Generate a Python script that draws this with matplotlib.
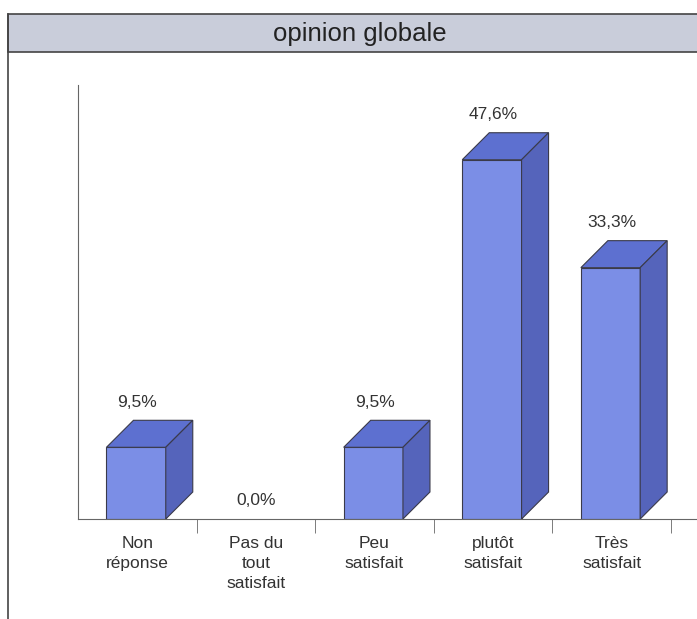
import matplotlib.pyplot as plt
from matplotlib.patches import Polygon
from matplotlib.lines import Line2D

categories = ["Non\nréponse", "Pas du\ntout\nsatisfait", "Peu\nsatisfait",
              "plutôt\nsatisfait", "Très\nsatisfait"]
values = [9.5, 0.0, 9.5, 47.6, 33.3]
labels = ["9,5%", "0,0%", "9,5%", "47,6%", "33,3%"]

plt.rcParams['font.family'] = ['Liberation Sans', 'DejaVu Sans']

W, H = 697, 619
fig = plt.figure(figsize=(W / 100, H / 100), dpi=100)

# title band
fig.patches.append(plt.Rectangle((8 / W, 1 - 52 / H), 1, 38 / H, transform=fig.transFigure,
                                 facecolor='#c9cdda', edgecolor='#444444', lw=1.2))
fig.text(360 / W, 1 - 34 / H, "opinion globale", ha='center', va='center',
         fontsize=18.5, color='#222222')
fig.add_artist(Line2D([8 / W, 8 / W], [0, 1 - 14 / H], transform=fig.transFigure,
                      color='#444444', lw=1.2))

ax = fig.add_axes([78 / W, 100 / H, (W - 78) / W, 434 / H])
x_lo = -0.5
x_hi = x_lo + (W - 78) / 118.6
ax.set_xlim(x_lo, x_hi)
ax.set_ylim(0, 57.5)

dx = 27 / 118.6
dy = 27 / 7.55
front = '#7b8ee6'
top = '#5d70d0'
side = '#5564bb'
edge = '#3a3a4a'

for i, v in enumerate(values):
    l, r = i - 0.26, i + 0.24
    if v > 0:
        ax.add_patch(Polygon([(l, 0), (r, 0), (r, v), (l, v)], closed=True,
                             facecolor=front, edgecolor=edge, lw=0.8))
        ax.add_patch(Polygon([(l, v), (r, v), (r + dx, v + dy), (l + dx, v + dy)], closed=True,
                             facecolor=top, edgecolor=edge, lw=0.8))
        ax.add_patch(Polygon([(r, 0), (r + dx, dy), (r + dx, v + dy), (r, v)], closed=True,
                             facecolor=side, edgecolor=edge, lw=0.8))
        ytxt = v + dy
    else:
        ytxt = v
    ax.annotate(labels[i], (i, ytxt), xytext=(0, 13), textcoords='offset points',
                ha='center', va='center', fontsize=12.5, color='#333333')

for s in ['top', 'right']:
    ax.spines[s].set_visible(False)
ax.spines['left'].set_color('#666666')
ax.spines['bottom'].set_color('#666666')
ax.set_yticks([])
ax.set_xticks(range(len(categories)))
ax.set_xticklabels(categories, fontsize=12.5, color='#333333', linespacing=1.45)
ax.tick_params(axis='x', which='major', length=0, pad=12)
ax.set_xticks([i + 0.5 for i in range(len(categories))], minor=True)
ax.tick_params(axis='x', which='minor', length=10, color='#666666', pad=0)

fig.savefig("out.png", dpi=100)
